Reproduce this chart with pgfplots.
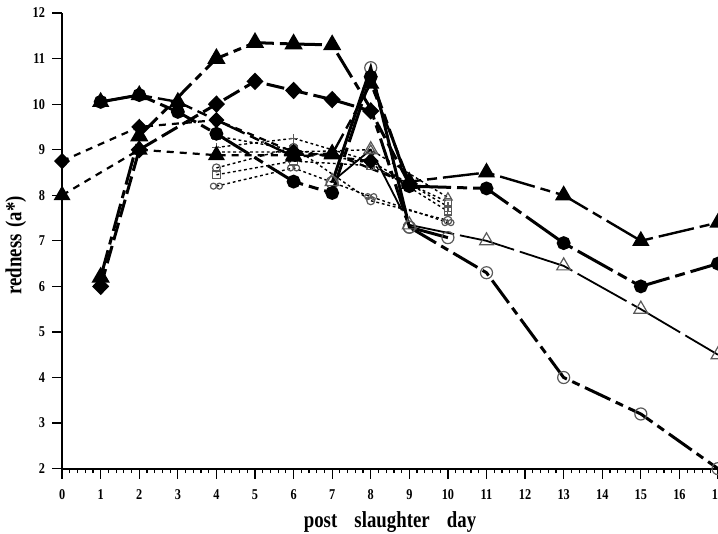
\documentclass[border=0pt]{standalone}
\usepackage{fontspec}
\setmainfont{Liberation Serif}
\newfontfamily\cond{Liberation Serif}[FakeStretch=0.82]
\usepackage{pgfplots}
\pgfplotsset{compat=1.18}

% line styles used by the series
\tikzset{
  thk/.style={black, line width=1.5bp},
  thn/.style={black, line width=0.9bp},
  sdash/.style={black, line width=1.1bp, dash pattern=on 3.5bp off 3bp},
  dots/.style={black, line width=0.7bp, dash pattern=on 1.4bp off 1.4bp},
  omark/.style={solid, draw=gray!70!black, fill=white, line width=0.6bp},
}

\begin{document}
\begin{tikzpicture}
\begin{axis}[
  scale only axis,
  width=327.5bp, height=227.5bp,
  xmin=0, xmax=17, ymin=2, ymax=12,
  axis lines=left,
  axis line style={-, line width=0.9bp},
  xtick={0,1,...,17}, ytick={2,3,...,12},
  minor x tick num=4,
  tick align=outside,
  major tick length=5bp, minor tick length=2.2bp,
  every tick/.style={black, line width=0.6bp},
  /pgf/number format/assume math mode=true,
  tick label style={font=\cond\fontsize{7.5}{8}\selectfont\bfseries},
  xticklabel style={anchor=north, yshift=-2bp},
  yticklabel style={anchor=east, xshift=0bp},
  xlabel={post\hspace{0.75em}slaughter\hspace{0.75em}day},
  ylabel={redness\hspace{0.3em}(a*)},
  xlabel style={at={(axis description cs:0.5,-0.1297)}, anchor=base,
    font=\cond\fontsize{11.5}{12}\selectfont\bfseries},
  ylabel style={at={(axis description cs:-0.062,0.49)}, anchor=base,
    font=\cond\fontsize{11.5}{12}\selectfont\bfseries},
  clip=false,
]

% dotted series with small open marks (days 4-10)
\addplot[dots, mark=+, mark size=2.2bp, mark options={solid, gray!70!black, line width=0.6bp}]
  coordinates {(4,9.05) (6,9.25) (8,8.75) (10,7.75)};
\addplot[dots, mark=square, mark size=1.9bp, mark options={omark}]
  coordinates {(4,8.45) (6,8.75) (8,8.65) (10,7.85)};
\addplot[dots, mark=o, mark size=2bp, mark options={omark}]
  coordinates {(4,8.6) (6,9.05) (8,7.88) (10,7.45)};
\addplot[dots, mark=o, mark size=1.5bp, mark options={omark, xshift=-1.5bp}]
  coordinates {(4,8.2) (6,8.6) (8,7.97) (10,7.4)};
\addplot[only marks, mark=o, mark size=1.5bp, mark options={omark, xshift=1.5bp}]
  coordinates {(4,8.2) (6,8.6) (8,7.97) (10,7.4)};
\addplot[dots, mark=square, mark size=1.9bp, mark options={omark}]
  coordinates {(4,9.3) (6,9.0) (8,8.7) (10,7.65)};
\addplot[only marks, mark=+, mark size=1.9bp, mark options={gray!70!black, line width=0.5bp}]
  coordinates {(4,9.3) (6,9.0) (8,8.7) (10,7.65)};
\addplot[dots, mark=triangle, mark size=2.4bp, mark options={omark}]
  coordinates {(4,8.95) (6,8.95) (8,9.0) (10,7.95)};

% short-dashed series from day 0
\addplot[sdash, mark=diamond*, mark size=3.3bp, mark options={solid, fill=black, xscale=1.3}]
  coordinates {(0,8.75) (2,9.5) (4,9.65) (6,8.95) (8,8.75)};
\addplot[sdash, mark=triangle*, mark size=3.8bp, mark options={solid, fill=black}]
  coordinates {(0,8.0) (2,9.0) (4,8.88) (6,8.88) (7,8.92) (9,8.25)};

% open triangles, thin line
\addplot[thn, dash pattern=on 28bp off 3bp, mark=triangle, mark size=4bp, mark options={omark}]
  coordinates {(7,8.3) (8,9.0) (9,7.35) (11,7.0) (13,6.45) (15,5.5) (17,4.5)};

% open circles, day 7 to 10
\addplot[thk, mark=o, mark size=3bp, mark options={omark}]
  coordinates {(7,8.28) (8,10.8) (9,7.3) (10,7.07)};

% filled triangles, thin then dash-dot
\addplot[thn, line width=1.2bp, dash pattern=on 18bp off 3bp on 5bp off 3bp,
  mark=triangle*, mark size=3.8bp, mark options={solid, fill=black}]
  coordinates {(1,10.05) (2,10.2) (3,10.05) (6,8.85) (7,8.9) (8,10.45) (9,8.3)
    (11,8.5) (13,8.0) (15,7.0) (17,7.4)};

% filled circles
\addplot[thk, dash pattern=on 20bp off 3bp on 5bp off 3bp,
  mark=*, mark size=2.7bp, mark options={solid, fill=black}]
  coordinates {(1,10.05) (2,10.2) (3,9.83) (4,9.35) (6,8.3) (7,8.05) (8,10.6)
    (9,8.2) (11,8.15) (13,6.95) (15,6.0) (17,6.5)};

% filled diamonds, long dash
\addplot[thk, dash pattern=on 9bp off 3bp,
  mark=diamond*, mark size=3.3bp, mark options={solid, fill=black, xscale=1.3}]
  coordinates {(1,6.0) (2,9.0) (4,10.0) (5,10.5) (6,10.3) (7,10.1) (8,9.85) (9,8.25)};

% filled triangles top, running on into the open-circle tail
\addplot[thk, dash pattern=on 14bp off 3bp on 4bp off 3bp,
  mark=triangle*, mark size=3.8bp, mark options={solid, fill=black}, mark indices={1,...,6}]
  coordinates {(1,6.2) (2,9.3) (4,11.0) (5,11.35) (6,11.32) (7,11.3) (8,9.9)
    (9,7.3) (11,6.3) (13,4.0) (15,3.2) (17,2.0)};
\addplot[only marks, mark=o, mark size=3bp, mark options={omark}]
  coordinates {(9,7.3) (11,6.3) (13,4.0) (15,3.2) (17,2.0)};

\end{axis}
\pgfresetboundingbox
\path[use as bounding box] (-31bp,-32.5bp) rectangle (327.5bp,234bp);
\end{tikzpicture}
\end{document}
